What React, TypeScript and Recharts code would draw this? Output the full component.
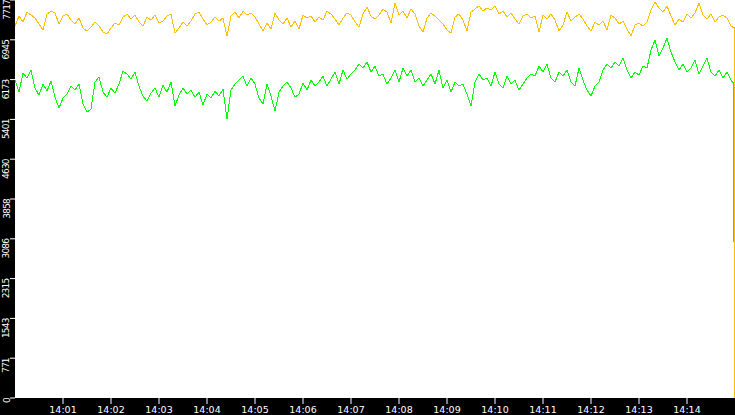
import { LineChart, Line, XAxis, YAxis, CartesianGrid } from 'recharts';

// one sample every 5 seconds from 14:00:00
const STEP = 5;

const orangeValues = [
  7212, 7406, 7290, 7484, 7426, 7368, 7251, 7135, 7445, 7503,
  7465, 7251, 7406, 7445, 7329, 7251, 7368, 7173, 7115, 7193,
  7290, 7212, 7096, 7057, 7173, 7271, 7232, 7387, 7445, 7348,
  7426, 7290, 7212, 7387, 7329, 7426, 7271, 7309, 7406, 7445,
  7076, 7173, 7290, 7212, 7309, 7445, 7484, 7348, 7232, 7290,
  7387, 7309, 7368, 7018, 7406, 7484, 7368, 7503, 7426, 7465,
  7387, 7251, 7115, 7271, 7154, 7465, 7329, 7251, 7368, 7193,
  7309, 7154, 7426, 7368, 7406, 7290, 7387, 7329, 7503, 7445,
  7348, 7232, 7368, 7465, 7426, 7290, 7193, 7445, 7581, 7406,
  7348, 7426, 7542, 7484, 7271, 7659, 7426, 7503, 7368, 7542,
  7445, 7212, 7096, 7368, 7465, 7406, 7329, 7251, 7135, 7076,
  7387, 7445, 7329, 7115, 7484, 7542, 7601, 7503, 7562, 7523,
  7601, 7445, 7503, 7387, 7465, 7348, 7251, 7406, 7445, 7368,
  7406, 7096, 7426, 7348, 7445, 7329, 7115, 7232, 7484, 7309,
  7387, 7445, 7348, 7212, 7115, 7290, 7232, 7309, 7135, 7426,
  7368, 7251, 7309, 7154, 7018, 7232, 7271, 7212, 7290, 7523,
  7678, 7562, 7484, 7601, 7406, 7232, 7348, 7290, 7445, 7368,
  7465, 7659, 7426, 7348, 7445, 7290, 7387, 7426, 7368, 7212,
];
// last seconds: the trace drops to zero at the very end
const orangeTail = [
  [897, 7193],
  [899.375, 7174],
  [899.375, 0],
];

const greenValues = [
  6164, 5931, 6300, 6203, 6358, 6009, 5873, 6087, 5951, 6145,
  5834, 5621, 5815, 5892, 6048, 5970, 6087, 5698, 5543, 5601,
  6125, 6222, 5931, 5834, 6009, 5912, 6087, 6339, 6281, 6184,
  6320, 6048, 5854, 5757, 5912, 6009, 5834, 6067, 5931, 6125,
  5660, 5873, 6009, 5892, 5970, 5834, 5931, 5679, 5892, 5815,
  5951, 5854, 5990, 5407, 5970, 6087, 6164, 6242, 6048, 6203,
  6087, 5815, 5698, 6087, 5854, 5562, 5931, 6048, 6125, 6009,
  5834, 5892, 6106, 5970, 6164, 6048, 6125, 6242, 6048, 6184,
  6320, 6087, 6358, 6184, 6281, 6358, 6475, 6397, 6514, 6320,
  6436, 6242, 6281, 6087, 6203, 6358, 6125, 6397, 6242, 6358,
  6125, 6203, 6048, 6164, 6281, 6087, 6358, 6009, 6164, 5931,
  6125, 6048, 6087, 5892, 5660, 6125, 6281, 6164, 6203, 6048,
  6320, 6087, 6009, 6242, 6087, 6164, 5970, 6087, 6203, 6281,
  6242, 6436, 6320, 6475, 6203, 6125, 6320, 6242, 6358, 6125,
  6048, 6397, 6164, 5970, 5854, 6048, 6125, 6358, 6475, 6397,
  6514, 6436, 6591, 6358, 6203, 6320, 6261, 6436, 6397, 6746,
  6941, 6630, 6785, 6979, 6708, 6514, 6358, 6475, 6320, 6397,
  6552, 6281, 6436, 6591, 6320, 6242, 6358, 6203, 6320, 6164,
];
const greenTail = [
  [897, 6125],
  [898.125, 6106],
  [898.125, 3019],
];

const xTicks = [60, 120, 180, 240, 300, 360, 420, 480, 540, 600, 660, 720, 780, 840];
const xTickLabels = [
  '14:01', '14:02', '14:03', '14:04', '14:05', '14:06', '14:07',
  '14:08', '14:09', '14:10', '14:11', '14:12', '14:13', '14:14',
];
const yTicks = [0, 771.7, 1543.4, 2315.1, 3086.8, 3858.5, 4630.2, 5401.9, 6173.6, 6945.3, 7717];

const toSeries = (values: number[], tail: number[][]) =>
  values
    .map((v, i) => ({ t: i * STEP, v }))
    .concat(tail.map(([t, v]) => ({ t, v })));

const greenData = toSeries(greenValues, greenTail);
const orangeData = toSeries(orangeValues, orangeTail);

const YTick = (props: any) => {
  const { x, y, payload } = props;
  const tx = x + 1.5;
  return (
    <text
      x={tx}
      y={y}
      transform={`rotate(-90 ${tx} ${y})`}
      textAnchor="end"
      fill="#fff"
      fontSize={9}
      letterSpacing={-0.8}
      fontFamily="DejaVu Sans"
    >
      {Math.floor(payload.value)}
    </text>
  );
};

export default function App() {
  return (
    <div style={{ position: 'fixed', left: 0, top: 0, width: 735, height: 415, background: '#000' }}>
      <LineChart width={735} height={415} margin={{ top: 0, right: 0, bottom: 0, left: 0 }}>
        <CartesianGrid horizontal={false} vertical={false} fill="#fff" />
        <XAxis
          type="number"
          dataKey="t"
          domain={[0, 900]}
          ticks={xTicks}
          interval={0}
          tickFormatter={(v) => xTickLabels[xTicks.indexOf(v)]}
          height={17}
          axisLine={false}
          tickLine={{ stroke: '#fff' }}
          tickSize={6}
          tickMargin={2}
          tick={{ fill: '#fff', fontSize: 9.5, fontFamily: 'DejaVu Sans' }}
        />
        <YAxis
          type="number"
          domain={[0, 7717]}
          ticks={yTicks}
          interval={0}
          width={15}
          axisLine={false}
          tickLine={{ stroke: '#fff' }}
          tickSize={5}
          tick={<YTick />}
        />
        <Line
          data={greenData}
          dataKey="v"
          type="linear"
          stroke="#00ff00"
          strokeWidth={1}
          dot={false}
          shapeRendering="crispEdges"
          isAnimationActive={false}
        />
        <Line
          data={orangeData}
          dataKey="v"
          type="linear"
          stroke="#ffc000"
          strokeWidth={1}
          dot={false}
          shapeRendering="crispEdges"
          isAnimationActive={false}
        />
      </LineChart>
    </div>
  );
}
